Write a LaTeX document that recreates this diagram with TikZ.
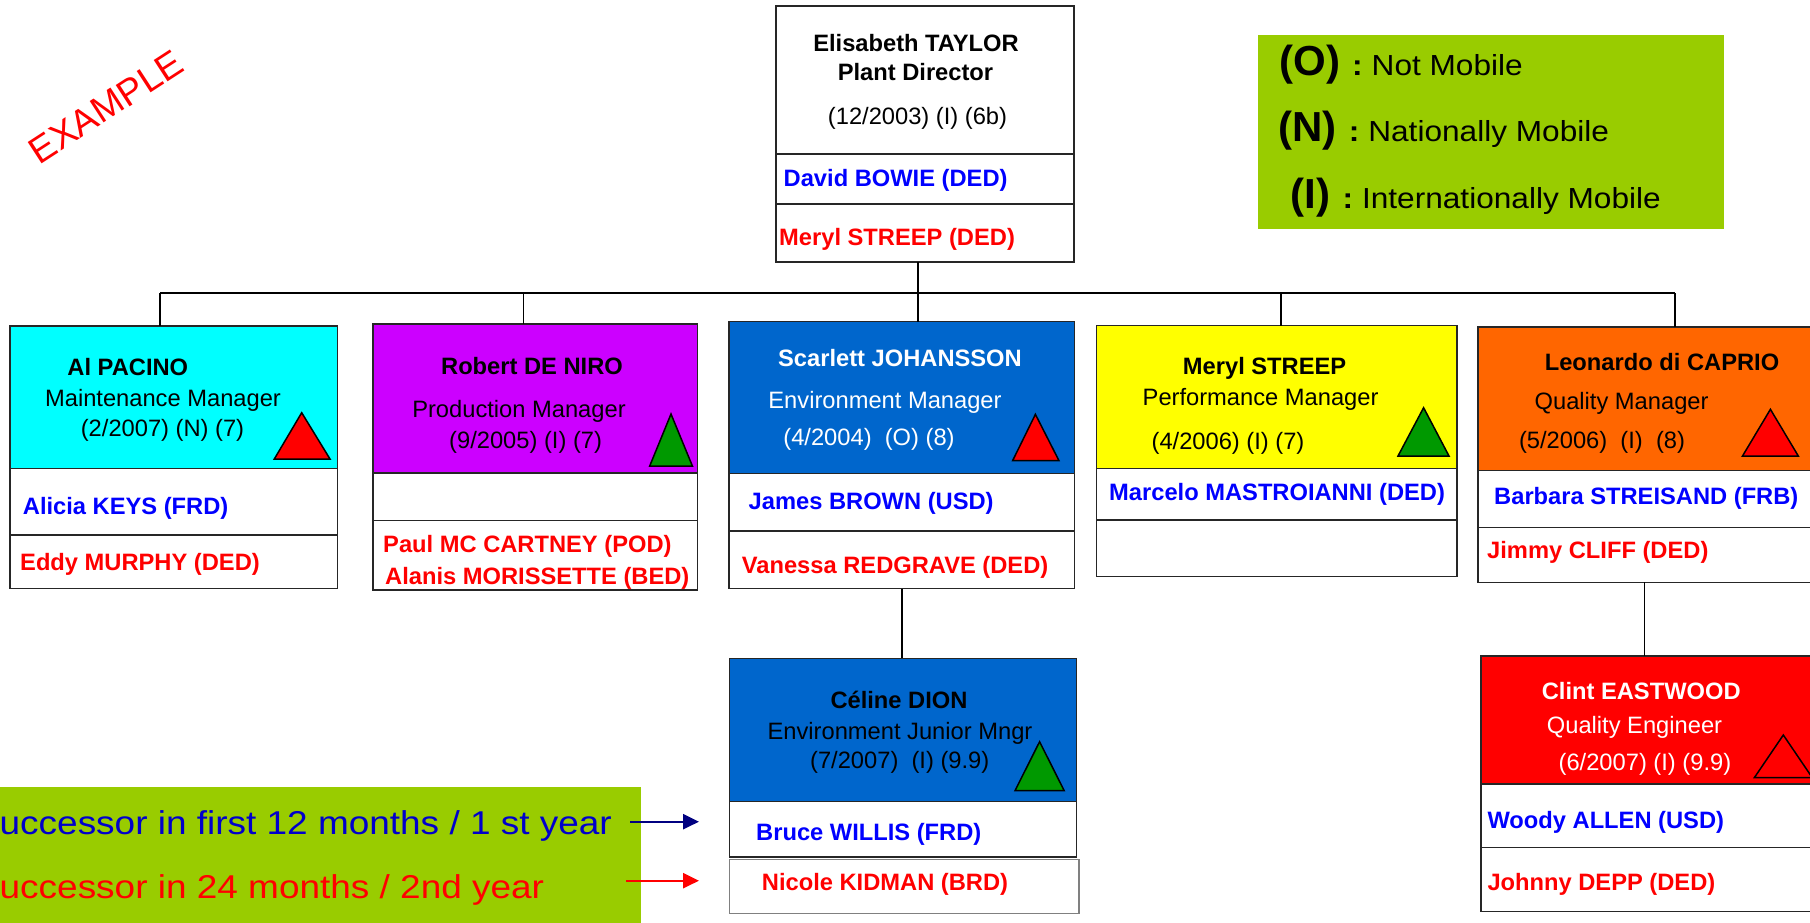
\documentclass[tikz,border=0pt]{standalone}
\usepackage{fontspec}
\setmainfont{Liberation Sans}
\newfontfamily\keyfont{Liberation Sans}[FakeStretch=1.09]
\newfontfamily\notefont{Liberation Sans}[FakeStretch=1.12]
\usetikzlibrary{arrows.meta}
\definecolor{keygreen}{HTML}{99CC00}
\definecolor{boxcyan}{HTML}{00FFFF}
\definecolor{boxpurple}{HTML}{CC00FF}
\definecolor{boxblue}{HTML}{0066CC}
\definecolor{boxyellow}{HTML}{FFFF00}
\definecolor{boxorange}{HTML}{FF6600}
\definecolor{boxred}{HTML}{FF0000}
\definecolor{trigreen}{HTML}{009900}
\definecolor{nameblue}{HTML}{0000FF}
\definecolor{namered}{HTML}{FF0000}
\definecolor{noteblue}{HTML}{0000CC}
\definecolor{arrownavy}{HTML}{000080}
\newcommand{\cardsize}{\fontsize{23.7}{28}\selectfont}
\begin{document}
\begin{tikzpicture}[x=1pt, y=-1pt,
  box/.style={draw=black!85, line width=1.3pt, anchor=north west, inner sep=0pt, outer sep=0pt},
  who/.style={anchor=base, inner sep=0pt, font=\cardsize\bfseries},
  txt/.style={anchor=base, inner sep=0pt, font=\cardsize},
  succ/.style={anchor=base west, inner sep=0pt, font=\cardsize\bfseries, text=nameblue},
  alt/.style={anchor=base west, inner sep=0pt, font=\cardsize\bfseries, text=namered},
  keyline/.style={anchor=base west, inner sep=0pt, font=\fontsize{29}{32}\keyfont},
  note/.style={anchor=base west, inner sep=0pt, font=\fontsize{33}{36}\notefont},
  link/.style={line width=1.5pt},
  tri/.style={draw=black, line width=1.5pt, line join=miter},
  arrow/.style={line width=2.4pt, -{Triangle[length=16pt,width=15pt]}}]
\useasboundingbox (0,0) rectangle (1810,922);

\node[rotate=33, text=red, inner sep=0pt, font=\fontsize{37}{40}\selectfont] (stamp) at (105.8,107) {EXAMPLE};

% legend
\node[box, draw=none, fill=keygreen, minimum width=465.7pt, minimum height=194pt] (key) at (1258.3,35) {};
\node[keyline] (keyO) at (1279.3,75.7) {{\normalfont\bfseries\fontsize{42}{42}\selectfont (O)}\hspace{12pt}\textbf{:}\hspace{9pt}Not Mobile};
\node[keyline] (keyN) at (1278.3,141.7) {{\normalfont\bfseries\fontsize{42}{42}\selectfont (N)}\hspace{12pt}\textbf{:}\hspace{9pt}Nationally Mobile};
\node[keyline] (keyI) at (1290.7,208.3) {{\normalfont\bfseries\fontsize{42}{42}\selectfont (I)}\hspace{12pt}\textbf{:}\hspace{9pt}Internationally Mobile};

\node[box, draw=none, fill=keygreen, minimum width=640.5pt, minimum height=140pt] (notes) at (0,786.7) {};
\node[note, text=noteblue] (note1) at (-0.5,834.3) {uccessor in first 12 months / 1 st year};
\node[note, text=namered] (note2) at (-0.5,898.3) {uccessor in 24 months / 2nd year};

% plant director
\node[box, fill=white, minimum width=298pt, minimum height=148pt] (dir) at (776,6) {};
\node[box, minimum width=298pt, minimum height=50pt] (dir1) at (dir.south west) {};
\node[box, minimum width=298pt, minimum height=58pt] (dir2) at (dir1.south west) {};
\node[who] (dirname) at (916,51.5) {Elisabeth TAYLOR};
\node[who] (dirjob) at (915.5,80) {Plant Director};
\node[txt] (dirdate) at (917.5,124) {(12/2003) (I) (6b)};
\node[succ] (dirs1) at (783.5,186.7) {David BOWIE (DED)};
\node[alt] (dirs2) at (779,245) {Meryl STREEP (DED)};

% managers
\node[box, fill=boxcyan, minimum width=327.7pt, minimum height=142.3pt] (maint) at (10,326) {};
\node[box, minimum width=327.7pt, minimum height=66.7pt] (maint1) at (maint.south west) {};
\node[box, minimum width=327.7pt, minimum height=53.3pt] (maint2) at (maint1.south west) {};
\node[who] (maintname) at (127.8,375) {Al PACINO};
\node[txt] (maintjob) at (163,406) {Maintenance Manager};
\node[txt] (maintdate) at (162.5,436.7) {(2/2007) (N) (7)};
\draw[tri, fill=boxred] (301.7,412.7) -- (274.3,459) -- (330,459) -- cycle;
\node[succ] (maints1) at (22.7,514) {Alicia KEYS (FRD)};
\node[alt] (maints2) at (20,570.7) {Eddy MURPHY (DED)};

\node[box, fill=boxpurple, minimum width=324.4pt, minimum height=149pt] (prod) at (373,324) {};
\node[box, minimum width=324.4pt, minimum height=47.7pt] (prod1) at (prod.south west) {};
\node[box, minimum width=324.4pt, minimum height=69.3pt] (prod2) at (prod1.south west) {};
\node[who] (prodname) at (532,374.4) {Robert DE NIRO};
\node[txt] (prodjob) at (519,417) {Production Manager};
\node[txt] (proddate) at (525.6,448.6) {(9/2005) (I) (7)};
\draw[tri, fill=trigreen] (671,414) -- (649.7,466) -- (692.4,466) -- cycle;
\node[alt] (prods2a) at (383,552.3) {Paul MC CARTNEY (POD)};
\node[alt] (prods2b) at (385,584.5) {Alanis MORISSETTE (BED)};

\node[box, fill=boxblue, minimum width=345.7pt, minimum height=151.6pt] (env) at (729,321.7) {};
\node[box, minimum width=345.7pt, minimum height=57.7pt] (env1) at (env.south west) {};
\node[box, minimum width=345.7pt, minimum height=57.7pt] (env2) at (env1.south west) {};
\node[who, text=white] (envname) at (900,366.7) {Scarlett JOHANSSON};
\node[txt, text=white] (envjob) at (885,408.3) {Environment Manager};
\node[txt, text=white] (envdate) at (869,445.5) {(4/2004)\ \ (O) (8)};
\draw[tri, fill=boxred] (1035.4,414.3) -- (1012.6,460.7) -- (1059,460.7) -- cycle;
\node[succ] (envs1) at (748.5,509) {James BROWN (USD)};
\node[alt] (envs2) at (741.7,573.5) {Vanessa REDGRAVE (DED)};

\node[box, fill=boxyellow, minimum width=360.7pt, minimum height=142.6pt] (perf) at (1096.3,325.7) {};
\node[box, minimum width=360.7pt, minimum height=51.7pt] (perf1) at (perf.south west) {};
\node[box, minimum width=360.7pt, minimum height=56.7pt] (perf2) at (perf1.south west) {};
\node[who] (perfname) at (1264.6,374.6) {Meryl STREEP};
\node[txt] (perfjob) at (1260.6,405.3) {Performance Manager};
\node[txt] (perfdate) at (1228,449) {(4/2006) (I) (7)};
\draw[tri, fill=trigreen] (1423.6,407.7) -- (1398,456) -- (1449,456) -- cycle;
\node[succ] (perfs1) at (1109,500.8) {Marcelo MASTROIANNI (DED)};

\node[box, fill=boxorange, minimum width=372pt, minimum height=143.7pt] (qual) at (1478,327) {};
\node[box, minimum width=372pt, minimum height=57pt] (qual1) at (qual.south west) {};
\node[box, minimum width=372pt, minimum height=54.6pt] (qual2) at (qual1.south west) {};
\node[who] (qualname) at (1662,370.3) {Leonardo di CAPRIO};
\node[txt] (qualjob) at (1621.6,409.5) {Quality Manager};
\node[txt] (qualdate) at (1602,448.6) {(5/2006)\ \ (I)\ \ (8)};
\draw[tri, fill=boxred] (1770.4,409.3) -- (1742.5,456) -- (1798.3,456) -- cycle;
\node[succ] (quals1) at (1494,504.6) {Barbara STREISAND (FRB)};
\node[alt] (quals2) at (1487,558.8) {Jimmy CLIFF (DED)};

% juniors
\node[box, fill=boxblue, minimum width=347.3pt, minimum height=143.4pt] (envjr) at (729.5,658.3) {};
\node[box, minimum width=347.3pt, minimum height=55.3pt] (envjr1) at (envjr.south west) {};
\node[box, draw=black!50, minimum width=349.5pt, minimum height=53.8pt] (envjr2) at (729.5,859.5) {};
\node[who] (envjrname) at (899,708) {Céline DION};
\node[txt] (envjrjob) at (900,739.2) {Environment Junior Mngr};
\node[txt] (envjrdate) at (899.7,768) {(7/2007)\ \ (I) (9.9)};
\draw[tri, fill=trigreen] (1039.6,741.7) -- (1015,790.7) -- (1064.2,790.7) -- cycle;
\node[succ] (envjrs1) at (756,840) {Bruce WILLIS (FRD)};
\node[alt] (envjrs2) at (761.7,890.7) {Nicole KIDMAN (BRD)};

\node[box, fill=boxred, minimum width=369pt, minimum height=128pt] (qualeng) at (1481,656) {};
\node[box, minimum width=369pt, minimum height=63.3pt] (qualeng1) at (qualeng.south west) {};
\node[box, minimum width=369pt, minimum height=64.4pt] (qualeng2) at (qualeng1.south west) {};
\node[who, text=white] (qualengname) at (1641.2,699) {Clint EASTWOOD};
\node[txt, text=white] (qualengjob) at (1634.5,733.3) {Quality Engineer};
\node[txt, text=white] (qualengdate) at (1644.9,770) {(6/2007) (I) (9.9)};
\draw[tri, fill=boxred] (1783.3,735) -- (1754.3,777.7) -- (1812.3,777.7) -- cycle;
\node[succ] (qualengs1) at (1487.3,828.3) {Woody ALLEN (USD)};
\node[alt] (qualengs2) at (1487.3,890) {Johnny DEPP (DED)};

% tree lines
\coordinate (b1) at (160,293);
\coordinate (b2) at (523.5,293);
\coordinate (b3) at (918,293);
\coordinate (b4) at (1281,293);
\coordinate (b5) at (1675,293);
\coordinate (c1) at (1644.3,600);
\draw[link] (b1) -- (b5);
\draw[link] (b1) -- (b1 |- maint.north);
\draw[link] (b2) -- (b2 |- prod.north);
\draw[link] (b3 |- dir2.south) -- (b3 |- env.north);
\draw[link] (b4) -- (b4 |- perf.north);
\draw[link] (b5) -- (b5 |- qual.north);
\draw[link] (env2.south) -- (env2.south |- envjr.north);
\draw[link] (c1 |- qual2.south) -- (c1 |- qualeng.north);

% successor arrows
\coordinate (a1) at (630,821.7);
\coordinate (a1e) at (699,821.7);
\coordinate (a2) at (626,880.7);
\coordinate (a2e) at (699,880.7);
\draw[arrow, arrownavy] (a1) -- (a1e);
\draw[arrow, namered] (a2) -- (a2e);
\end{tikzpicture}
\end{document}
